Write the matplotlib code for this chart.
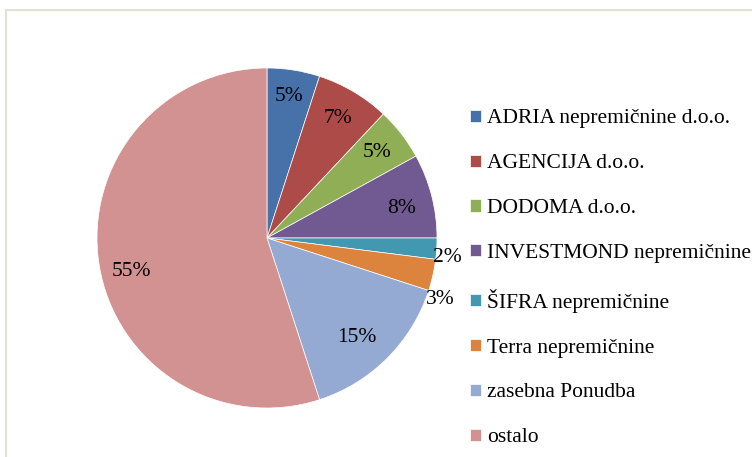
import matplotlib
matplotlib.use("Agg")
import matplotlib.pyplot as plt
import numpy as np
from matplotlib.lines import Line2D

labels = ['ADRIA nepremičnine d.o.o.', 'AGENCIJA d.o.o.', 'DODOMA d.o.o.',
          'INVESTMOND nepremičnine', 'ŠIFRA nepremičnine', 'Terra nepremičnine',
          'zasebna Ponudba', 'ostalo']
shares = [5, 7, 5, 8, 2, 3, 15, 55]
colors = ['#4672a9', '#ad4b48', '#8fae55', '#705a91', '#4298b0', '#dc843e',
          '#95aad3', '#d19291']
# label placement: (distance from centre, angle shift in degrees)
label_pos = [(0.84, 0), (0.82, 0), (0.82, 0), (0.81, -2),
             (1.07, -2.5), (1.08, -7), (0.79, -3), (0.82, 5)]

plt.rcParams['font.family'] = ['Liberation Serif', 'DejaVu Serif']
fontsize = 15.5

W, H = 752, 457
fig = plt.figure(figsize=(W / 100, H / 100), dpi=100)

# chart frame (light border, cut off at right/bottom)
fr = '#e2e2d4'
fig.add_artist(Line2D([6 / W, 6 / W], [-0.1, 1 - 10 / H], color=fr, lw=1.5,
                      transform=fig.transFigure))
fig.add_artist(Line2D([6 / W, 1.1], [1 - 10 / H, 1 - 10 / H], color=fr, lw=1.5,
                      transform=fig.transFigure))

cx, cy, r = 267, 238, 170
ax = fig.add_axes([(cx - r) / W, (H - cy - r) / H, 2 * r / W, 2 * r / H])
wedges, _ = ax.pie(shares, colors=colors, startangle=90, counterclock=False,
                   radius=1, wedgeprops=dict(edgecolor='white', linewidth=0.5))
ax.set_xlim(-1, 1)
ax.set_ylim(-1, 1)
ax.axis('off')

for w, v, (d, shift) in zip(wedges, shares, label_pos):
    ang = np.deg2rad((w.theta1 + w.theta2) / 2 + shift)
    ax.text(d * np.cos(ang), d * np.sin(ang), f'{v}%', ha='center', va='center',
            fontsize=fontsize, clip_on=False)

fig.legend(wedges, labels, loc='upper left', bbox_to_anchor=(470 / W, 1 - 109.5 / H),
           frameon=False, fontsize=fontsize, handlelength=0.5, handleheight=0.5,
           handletextpad=0.3, labelspacing=1.2, borderpad=0, borderaxespad=0)

fig.savefig('out.png', dpi=100)
